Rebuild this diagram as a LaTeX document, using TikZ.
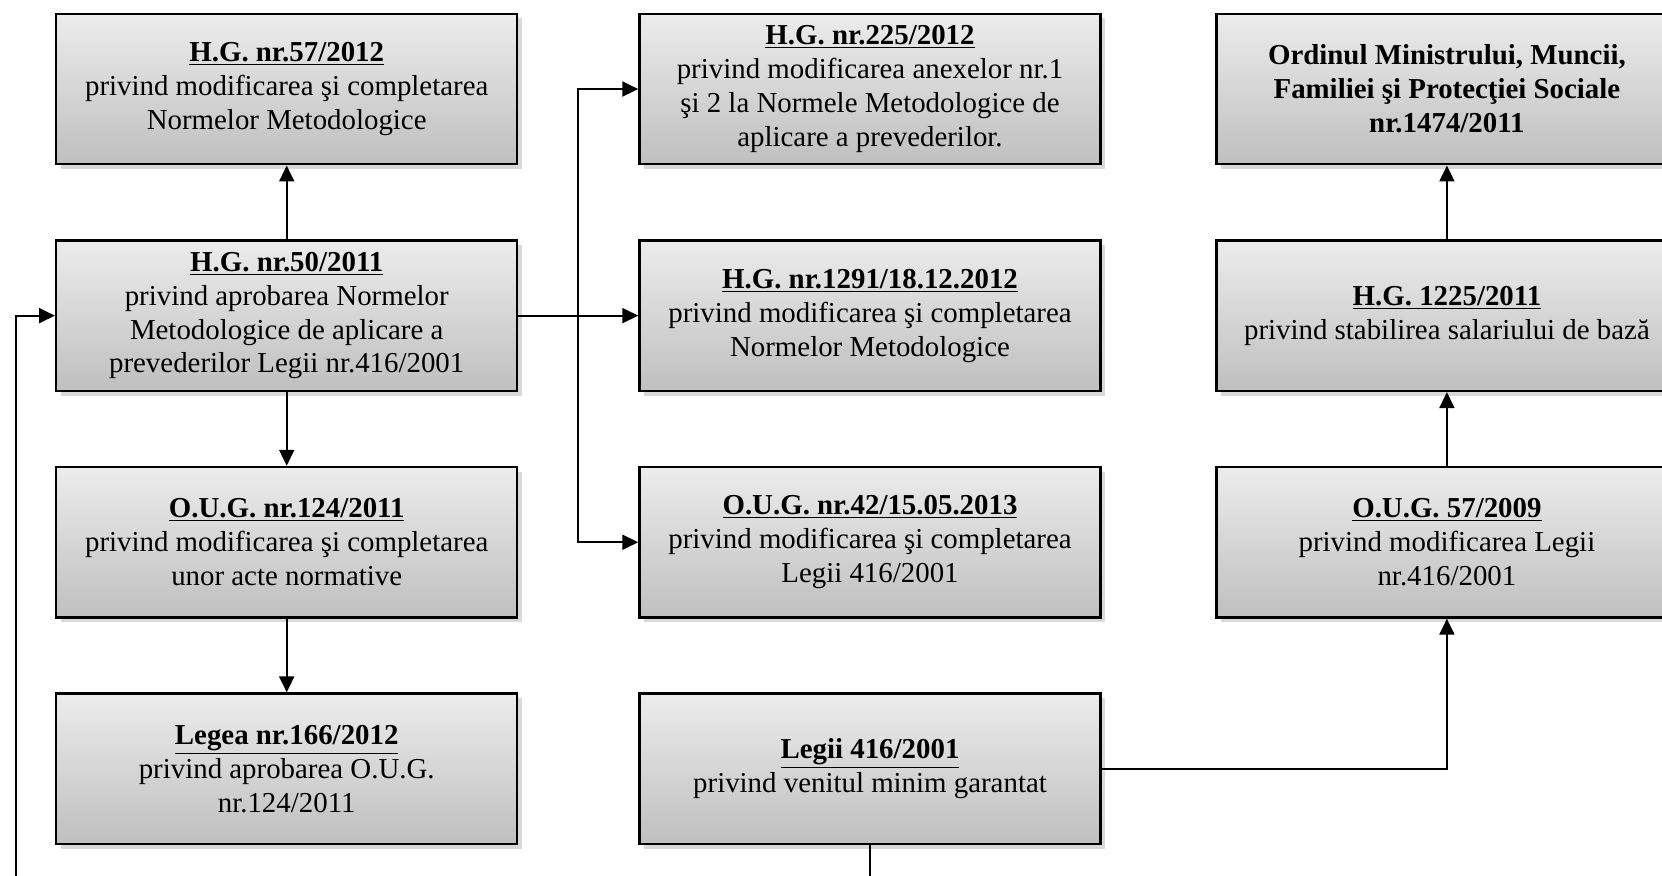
\documentclass[tikz,border=0pt]{standalone}
\usepackage{fontspec}
\setmainfont{Liberation Serif}
\usetikzlibrary{arrows.meta,positioning,shadows,calc}

\newcommand{\actname}[1]{\textbf{\underline{#1}}}

\begin{document}
\begin{tikzpicture}[
    node distance=1.39cm and 2.26cm,
    act/.style={rectangle, draw, line width=1.3pt, top color=gray!15, bottom color=gray!50, minimum width=8.7cm, minimum height=2.84cm, align=center, font=\fontsize{15.5}{18.2}\selectfont, drop shadow={shadow xshift=2.5pt, shadow yshift=-2.5pt, opacity=0.3}},
    edge/.style={-{Triangle[length=0.3cm, width=0.28cm]}, line width=1.2pt}
]
    \useasboundingbox (0,0) rectangle (31.36,-16.52);

    % first column
    \node[act] (hg57) at (5.41,-1.68) {\actname{H.G. nr.57/2012}\\privind modificarea şi completarea\\Normelor Metodologice};
    \node[act, below=of hg57] (hg50) {\actname{H.G. nr.50/2011}\\privind aprobarea Normelor\\Metodologice de aplicare a\\prevederilor Legii nr.416/2001};
    \node[act, below=of hg50] (oug124) {\actname{O.U.G. nr.124/2011}\\privind modificarea şi completarea\\unor acte normative};
    \node[act, below=of oug124] (lege166) {\actname{Legea nr.166/2012}\\privind aprobarea O.U.G.\\nr.124/2011};

    % second column
    \node[act, right=of hg57] (hg225) {\actname{H.G. nr.225/2012}\\privind modificarea anexelor nr.1\\şi 2 la Normele Metodologice de\\aplicare a prevederilor.};
    \node[act, right=of hg50] (hg1291) {\actname{H.G. nr.1291/18.12.2012}\\privind modificarea şi completarea\\Normelor Metodologice};
    \node[act, right=of oug124] (oug42) {\actname{O.U.G. nr.42/15.05.2013}\\privind modificarea şi completarea\\Legii 416/2001};
    \node[act, right=of lege166] (legii416) {\actname{Legii 416/2001}\\privind venitul minim garantat};

    % third column
    \node[act, right=2.14cm of hg225, font=\fontsize{15.5}{18.2}\selectfont\bfseries] (ordin) {Ordinul Ministrului, Muncii,\\Familiei şi Protecţiei Sociale\\nr.1474/2011};
    \node[act, right=2.14cm of hg1291] (hg1225) {\actname{H.G. 1225/2011}\\privind stabilirea salariului de bază};
    \node[act, right=2.14cm of oug42] (oug57) {\actname{O.U.G. 57/2009}\\privind modificarea Legii\\nr.416/2001};

    \coordinate (split) at ($(hg50.east)!0.5!(hg1291.west)$);
    \coordinate (back) at (0.3,-17.2);

    \draw[edge] (hg50) -- (hg57);
    \draw[edge] (hg50) -- (oug124);
    \draw[edge] (oug124) -- (lege166);
    \draw[edge] (hg50) -- (hg1291);
    \draw[edge] (split) |- (hg225.west);
    \draw[edge] (split) |- (oug42.west);
    \draw[edge] (legii416.east) -| (oug57.south);
    \draw[edge] (oug57) -- (hg1225);
    \draw[edge] (hg1225) -- (ordin);
    \draw[edge] (legii416.south) |- (back) |- (hg50.west);
\end{tikzpicture}
\end{document}
